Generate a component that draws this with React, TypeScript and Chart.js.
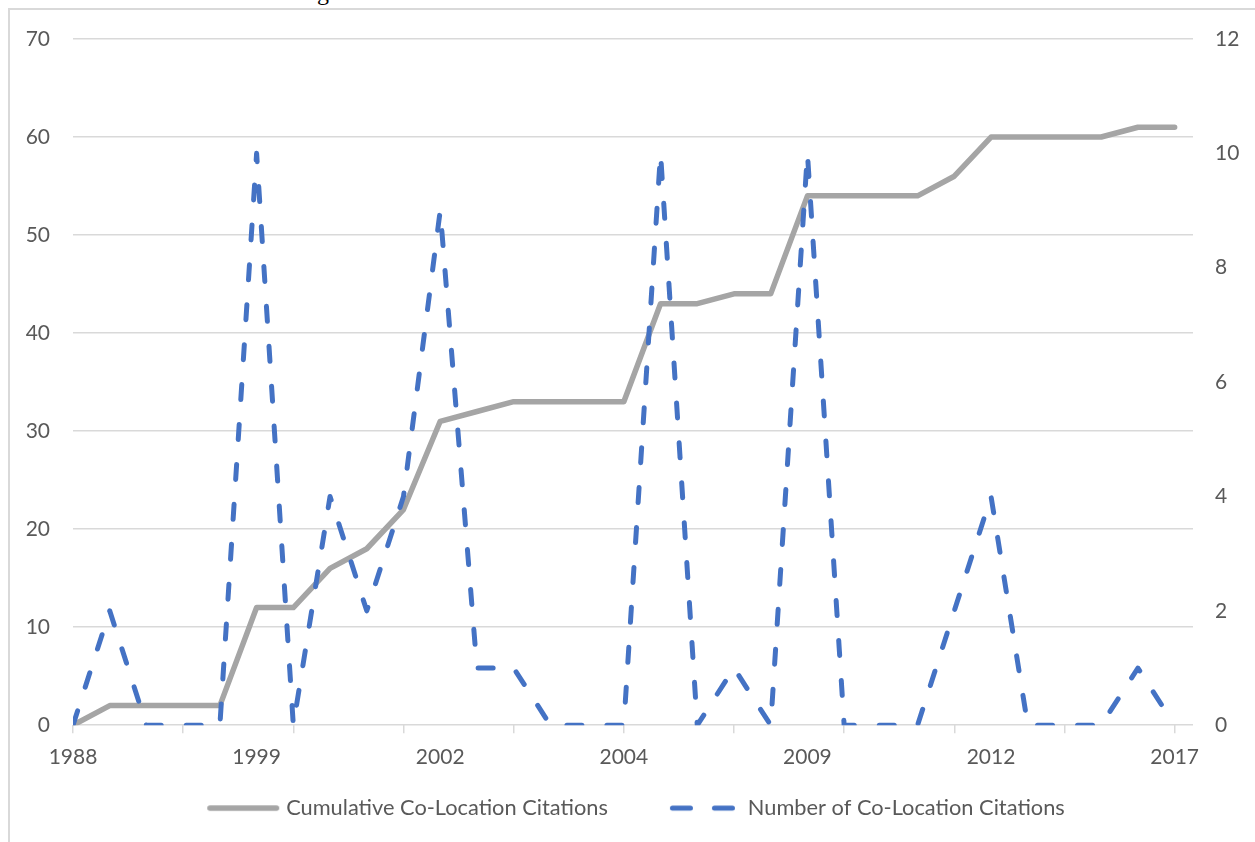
import React, { useEffect, useRef } from "react";
import { Chart, registerables } from "chart.js";

Chart.register(...registerables);

// ---- data ----
const categories = [
  "1988", "", "", "", "", "1999", "", "", "", "", "2002", "", "", "", "", "2004",
  "", "", "", "", "2009", "", "", "", "", "2012", "", "", "", "", "2017",
];
const cumulativeCitations = [
  0, 2, 2, 2, 2, 12, 12, 16, 18, 22, 31, 32, 33, 33, 33, 33,
  43, 43, 44, 44, 54, 54, 54, 54, 56, 60, 60, 60, 60, 61, 61,
];
const annualCitations = [
  0, 2, 0, 0, 0, 10, 0, 4, 2, 4, 9, 1, 1, 0, 0, 0,
  10, 0, 1, 0, 10, 0, 0, 0, 2, 4, 0, 0, 0, 1, 0,
];
const seriesNames = ["Cumulative Co-Location Citations", "Number of Co-Location Citations"];
const leftAxisRange = [0, 70, 10];
const rightAxisRange = [0, 12, 2];

// ---- styles ----
const FONT = "Lato, 'Open Sans', sans-serif";
const TEXT = "#595959";
const GRID = "#d9d9d9";
const GRAY = "#a5a5a5";
const BLUE = "#4472c4";
const CLEAR = "rgba(0,0,0,0)";

function legendSample(kind: "solid" | "dash"): HTMLCanvasElement {
  const c = document.createElement("canvas");
  c.width = 100;
  c.height = 10;
  const g = c.getContext("2d")!;
  g.lineCap = "round";
  const seg = (a: number, b: number) => {
    g.beginPath();
    g.moveTo(a, 5);
    g.lineTo(b, 5);
    g.stroke();
  };
  if (kind === "solid") {
    g.strokeStyle = GRAY;
    g.lineWidth = 5.5;
    seg(16.75, 83.25);
  } else {
    g.strokeStyle = BLUE;
    g.lineWidth = 5;
    seg(17.5, 35.5);
    seg(59.5, 77.5);
  }
  return c;
}

export default function App() {
  const ref = useRef<HTMLCanvasElement | null>(null);

  useEffect(() => {
    if (!ref.current) return;
    const samples = [legendSample("solid"), legendSample("dash")];
    const tickFont = { family: FONT, size: 21 };
    const chart = new Chart(ref.current, {
      type: "line",
      data: {
        datasets: [
          {
            label: seriesNames[0],
            data: cumulativeCitations.map((y, i) => ({ x: i, y })),
            yAxisID: "y",
            borderColor: GRAY,
            backgroundColor: GRAY,
            borderWidth: 5.5,
            borderCapStyle: "round",
            borderJoinStyle: "round",
            pointRadius: 0,
            tension: 0,
            order: 2,
          },
          {
            label: seriesNames[1],
            data: annualCitations.map((y, i) => ({ x: i, y })),
            yAxisID: "y1",
            borderColor: BLUE,
            backgroundColor: BLUE,
            borderWidth: 5,
            borderDash: [15, 25],
            borderCapStyle: "round",
            borderJoinStyle: "round",
            pointRadius: 0,
            tension: 0,
            order: 1,
          },
        ],
      },
      options: {
        responsive: false,
        animation: false,
        layout: { padding: { top: 29, bottom: 31, left: 0, right: 0 } },
        plugins: {
          tooltip: { enabled: false },
          legend: {
            position: "bottom",
            labels: {
              usePointStyle: true,
              pointStyleWidth: 64,
              padding: 65,
              color: TEXT,
              font: { family: FONT, size: 21.8 },
              generateLabels: (ch: any) => {
                const items = (Chart.defaults.plugins.legend.labels as any).generateLabels(ch);
                return items
                  .sort((a: any, b: any) => a.datasetIndex - b.datasetIndex)
                  .map((it: any) => ({ ...it, pointStyle: samples[it.datasetIndex], fontColor: TEXT }));
              },
            },
          },
        },
        scales: {
          x: {
            type: "linear",
            position: "bottom",
            min: 0,
            max: categories.length - 0.5,
            border: { display: false },
            grid: {
              drawOnChartArea: false,
              drawTicks: true,
              tickLength: 8,
              lineWidth: 1.5,
              color: (ctx: any) => (ctx.tick && ctx.tick.value % 3 === 0 ? GRID : CLEAR),
            },
            ticks: {
              stepSize: 1,
              autoSkip: false,
              includeBounds: false,
              maxRotation: 0,
              minRotation: 0,
              mirror: true,
              padding: -44.6,
              color: TEXT,
              font: tickFont,
              callback: (v: any) => categories[v] ?? "",
            },
            afterFit: (s: any) => {
              s.height = 7;
            },
          },
          y: {
            position: "left",
            min: leftAxisRange[0],
            max: leftAxisRange[1],
            border: { display: false },
            grid: { color: GRID, lineWidth: 1.5, drawTicks: true, tickLength: 23, tickColor: CLEAR },
            ticks: { stepSize: leftAxisRange[2], padding: 0, color: TEXT, font: tickFont },
            afterFit: (s: any) => {
              s.width = 63;
            },
          },
          y1: {
            position: "right",
            min: rightAxisRange[0],
            max: rightAxisRange[1],
            border: { display: false },
            grid: { drawOnChartArea: false, drawTicks: true, tickLength: 22, tickColor: CLEAR, color: CLEAR },
            ticks: { stepSize: rightAxisRange[2], padding: 0, color: TEXT, font: tickFont },
            afterFit: (s: any) => {
              s.width = 73;
            },
          },
        },
      },
    } as any);
    return () => chart.destroy();
  }, []);

  return (
    <div style={{ position: "fixed", left: 0, top: 0, width: 1255, height: 842, overflow: "hidden", background: "#fff" }}>
      <span
        style={{
          position: "absolute",
          left: 317,
          top: -20,
          fontFamily: "'Liberation Serif', 'Times New Roman', serif",
          fontSize: 24,
          lineHeight: "24px",
          color: "#000",
        }}
      >
        g
      </span>
      <div
        style={{
          position: "absolute",
          left: 8,
          top: 8,
          border: "2px solid #d9d9d9",
          width: 1256,
          height: 850,
        }}
      >
        <canvas ref={ref} width={1256} height={850} style={{ display: "block" }} />
      </div>
    </div>
  );
}
